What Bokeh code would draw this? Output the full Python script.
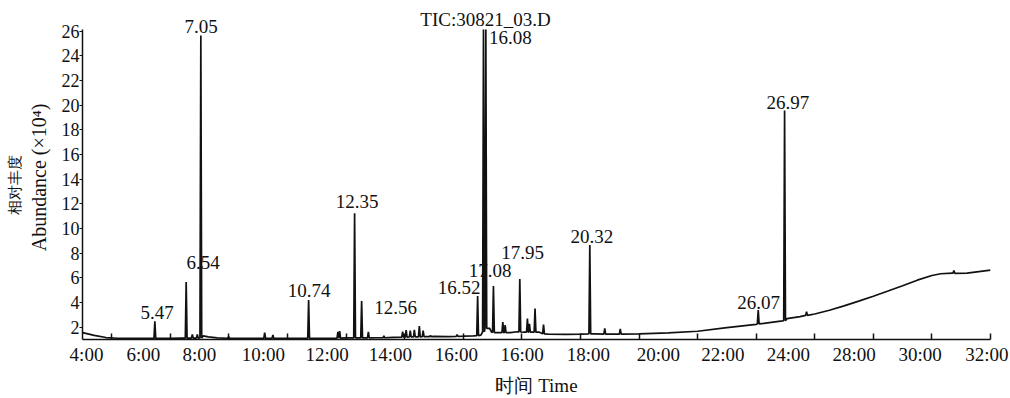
from bokeh.plotting import figure
from bokeh.models import Range1d, FixedTicker, ColumnDataSource, LabelSet, Label, LinearAxis
from bokeh.embed import file_html
from bokeh.resources import INLINE

# ---- data (time in min, abundance in x10^4) ----
base_t = [3.0, 3.4, 3.8, 4.2, 5.0, 5.4, 6.0, 6.4, 7.0, 7.12, 7.3, 7.6, 8.3, 9.0, 10.0,
          11.0, 12.0, 13.0, 13.6, 14.0, 15.0, 15.5, 16.0, 16.35, 16.6, 16.9, 16.96,
          17.2, 17.6, 17.85, 18.05, 18.35, 18.6, 18.9, 19.5, 20.0, 20.5, 21.0, 22.0,
          23.0, 24.0, 25.0, 26.0, 26.9, 27.05, 27.5, 28.0, 28.5, 29.0, 29.5, 30.0,
          30.5, 31.0, 31.5, 32.0, 32.3, 32.7, 33.2, 33.6, 34.0]
base_v = [1.55, 1.32, 1.15, 1.09, 1.08, 1.08, 1.08, 1.10, 1.12, 1.28, 1.20, 1.12, 1.09, 1.08, 1.08,
          1.09, 1.12, 1.13, 1.16, 1.20, 1.24, 1.22, 1.26, 1.28, 1.35, 1.90, 1.60,
          1.55, 1.55, 1.62, 1.58, 1.58, 1.58, 1.42, 1.40, 1.42, 1.45, 1.42, 1.45,
          1.52, 1.66, 1.95, 2.22, 2.50, 2.68, 2.85, 3.06, 3.36, 3.72, 4.10, 4.50,
          4.92, 5.35, 5.80, 6.18, 6.32, 6.38, 6.37, 6.50, 6.62]

peak_t = [5.47, 6.54, 6.75, 6.92, 7.04, 7.99, 9.22, 9.50, 10.72, 11.72, 11.78, 12.29,
          12.53, 12.76, 13.29, 13.93, 14.05, 14.19, 14.33, 14.50, 14.63, 14.88, 15.79,
          16.49, 16.69, 16.77, 17.03, 17.35, 17.43, 17.93, 18.19, 18.26, 18.45, 18.74,
          20.32, 20.83, 21.36, 26.07, 26.97, 27.72, 32.75]
peak_top = [2.47, 5.65, 1.40, 1.40, 25.65, 1.22, 1.55, 1.35, 4.20, 1.60, 1.68, 11.22,
            4.12, 1.60, 1.28, 1.62, 1.75, 1.70, 1.78, 2.07, 1.72, 1.30, 1.38,
            4.52, 26.12, 26.12, 5.32, 2.40, 2.15, 5.90, 2.69, 2.25, 3.51, 2.20,
            8.65, 1.90, 1.85, 3.38, 19.55, 3.25, 6.58]
peak_base = [1.08, 1.10, 1.10, 1.10, 1.12, 1.09, 1.08, 1.08, 1.09, 1.10, 1.10, 1.12,
             1.12, 1.12, 1.13, 1.18, 1.18, 1.20, 1.20, 1.20, 1.22, 1.22, 1.25,
             1.30, 1.60, 1.90, 1.55, 1.55, 1.55, 1.60, 1.58, 1.58, 1.58, 1.45,
             1.45, 1.43, 1.42, 2.25, 2.52, 2.95, 6.36]

label_text = ["5.47", "6.54", "7.05", "10.74", "12.35", "12.56", "16.52", "16.08",
              "17.08", "17.95", "20.32", "26.07", "26.97"]
label_peak = [5.47, 6.54, 7.04, 10.72, 12.29, 12.53, 16.49, 16.77,
              17.03, 17.93, 20.32, 26.07, 26.97]

x_tick_labels = ["4:00", "6:00", "8:00", "10:00", "12:00", "14:00", "16:00", "16:00",
                 "18:00", "20:00", "22:00", "24:00", "28:00", "30:00", "32:00"]
y_ticks = [2, 4, 6, 8, 10, 12, 14, 16, 18, 20, 22, 24, 26]
title_text = "TIC:30821_03.D"
x_title = "时间 Time"
y_title = "Abundance (×10⁴)"
y_title_cn = "相对丰度"

# ---- styling / placement ----
X0, X1 = 3.0, 34.0
Y0, Y_AXIS_TOP, Y1 = 0.99, 26.14, 28.48
x_label_pos = [3.137, 5.082, 6.993, 9.177, 11.352, 13.512, 15.765, 18.007,
               20.270, 22.659, 24.860, 27.096, 29.348, 31.601, 33.877]
x_tick_marks = [4, 6, 8, 10, 12, 14, 16, 18, 20, 22, 24, 26, 28, 30, 32, 34]
lab_dx = [2.4, 17, 0.4, 0.6, 2.4, 34, -18.4, 24.5, -3.4, 2.7, 2, 0.3, 3.3]
lab_dy = [2.7, 13, 2, 3, 5, -13, 2, -14.7, 9, 20, 2, 1.3, 2]
FONT = "Liberation Serif"
INK = "#111111"
pk_w = 0.03
NBSP = "\u00a0"
IDSP = "\u3000"

# trace: baseline points plus a narrow spike for every peak
pts = [(t, v) for t, v in zip(base_t, base_v) if all(abs(t - q) > pk_w for q in peak_t)]
for t, h, b in zip(peak_t, peak_top, peak_base):
    pts += [(t - pk_w, b), (t, h), (t + pk_w, b)]
pts.sort()
trace = ColumnDataSource(dict(t=[q[0] for q in pts], v=[q[1] for q in pts]))

p = figure(width=1010, height=398, output_backend="svg", toolbar_location=None,
           x_range=Range1d(X0, X1), y_range=Range1d(Y0, Y1),
           min_border_left=82, min_border_right=20, min_border_top=0, min_border_bottom=53)
p.outline_line_color = None
p.grid.visible = False
p.background_fill_color = "white"
p.border_fill_color = "white"

p.line("t", "v", source=trace, line_color=INK, line_width=1.7)

# peak labels
h_of = dict(zip(peak_t, peak_top))
lab_src = ColumnDataSource(dict(
    x=label_peak,
    y=[min(h_of[t], Y_AXIS_TOP) for t in label_peak],
    text=label_text, dx=lab_dx, dy=lab_dy))
p.add_layout(LabelSet(x="x", y="y", text="text", x_offset="dx", y_offset="dy",
                      source=lab_src, text_align="center", text_baseline="alphabetic",
                      text_font=FONT, text_font_size="19px", text_color=INK))

# title over the tallest peak
t_max = peak_t[peak_top.index(max(peak_top))]
p.add_layout(Label(x=t_max, y=Y_AXIS_TOP, x_offset=2, y_offset=10, text=title_text,
                   text_align="center", text_baseline="alphabetic",
                   text_font=FONT, text_font_size="19px", text_color=INK))

# x axis
xa = p.xaxis[0]
xa.ticker = FixedTicker(ticks=x_label_pos, minor_ticks=x_tick_marks)
xa.major_label_overrides = {pos: lab for pos, lab in zip(x_label_pos, x_tick_labels)}
xa.major_tick_in = 0
xa.major_tick_out = 0
xa.minor_tick_in = 6
xa.minor_tick_out = 0
xa.minor_tick_line_color = INK
xa.minor_tick_line_width = 1.5
xa.major_label_standoff = 4
xa.major_label_text_font = FONT
xa.major_label_text_font_size = "19px"
xa.major_label_text_color = INK
xa.axis_line_color = INK
xa.axis_line_width = 1.5
xa.axis_label = x_title
xa.axis_label_text_font = FONT
xa.axis_label_text_font_size = "19px"
xa.axis_label_text_font_style = "normal"
xa.axis_label_text_color = INK
xa.axis_label_standoff = 7

# y axis (trailing blanks push the rotated title down to sit beside the drawn axis)
ya = p.yaxis[0]
ya.bounds = (Y0, Y_AXIS_TOP)
ya.ticker = FixedTicker(ticks=y_ticks)
ya.minor_tick_line_color = None
ya.major_tick_in = 0
ya.major_tick_out = 3
ya.major_tick_line_color = INK
ya.major_label_standoff = 0
ya.major_label_text_font = FONT
ya.major_label_text_font_size = "18px"
ya.major_label_text_color = INK
ya.axis_line_color = INK
ya.axis_line_width = 1.5
ya.axis_label = y_title + NBSP * 3
ya.axis_label_text_font = FONT
ya.axis_label_text_font_size = "20px"
ya.axis_label_text_font_style = "normal"
ya.axis_label_text_color = INK
ya.axis_label_standoff = 9

# outer (Chinese) line of the y-axis title
ya2 = LinearAxis(ticker=FixedTicker(ticks=[]), axis_line_color=None,
                 major_tick_line_color=None, minor_tick_line_color=None,
                 major_label_text_font_size="0px", major_label_standoff=0,
                 axis_label=y_title_cn + IDSP * 2, axis_label_text_font=FONT,
                 axis_label_text_font_size="15px", axis_label_text_font_style="normal",
                 axis_label_text_color=INK, axis_label_standoff=2)
p.add_layout(ya2, "left")

open("out.html", "w").write(file_html(p, INLINE))
